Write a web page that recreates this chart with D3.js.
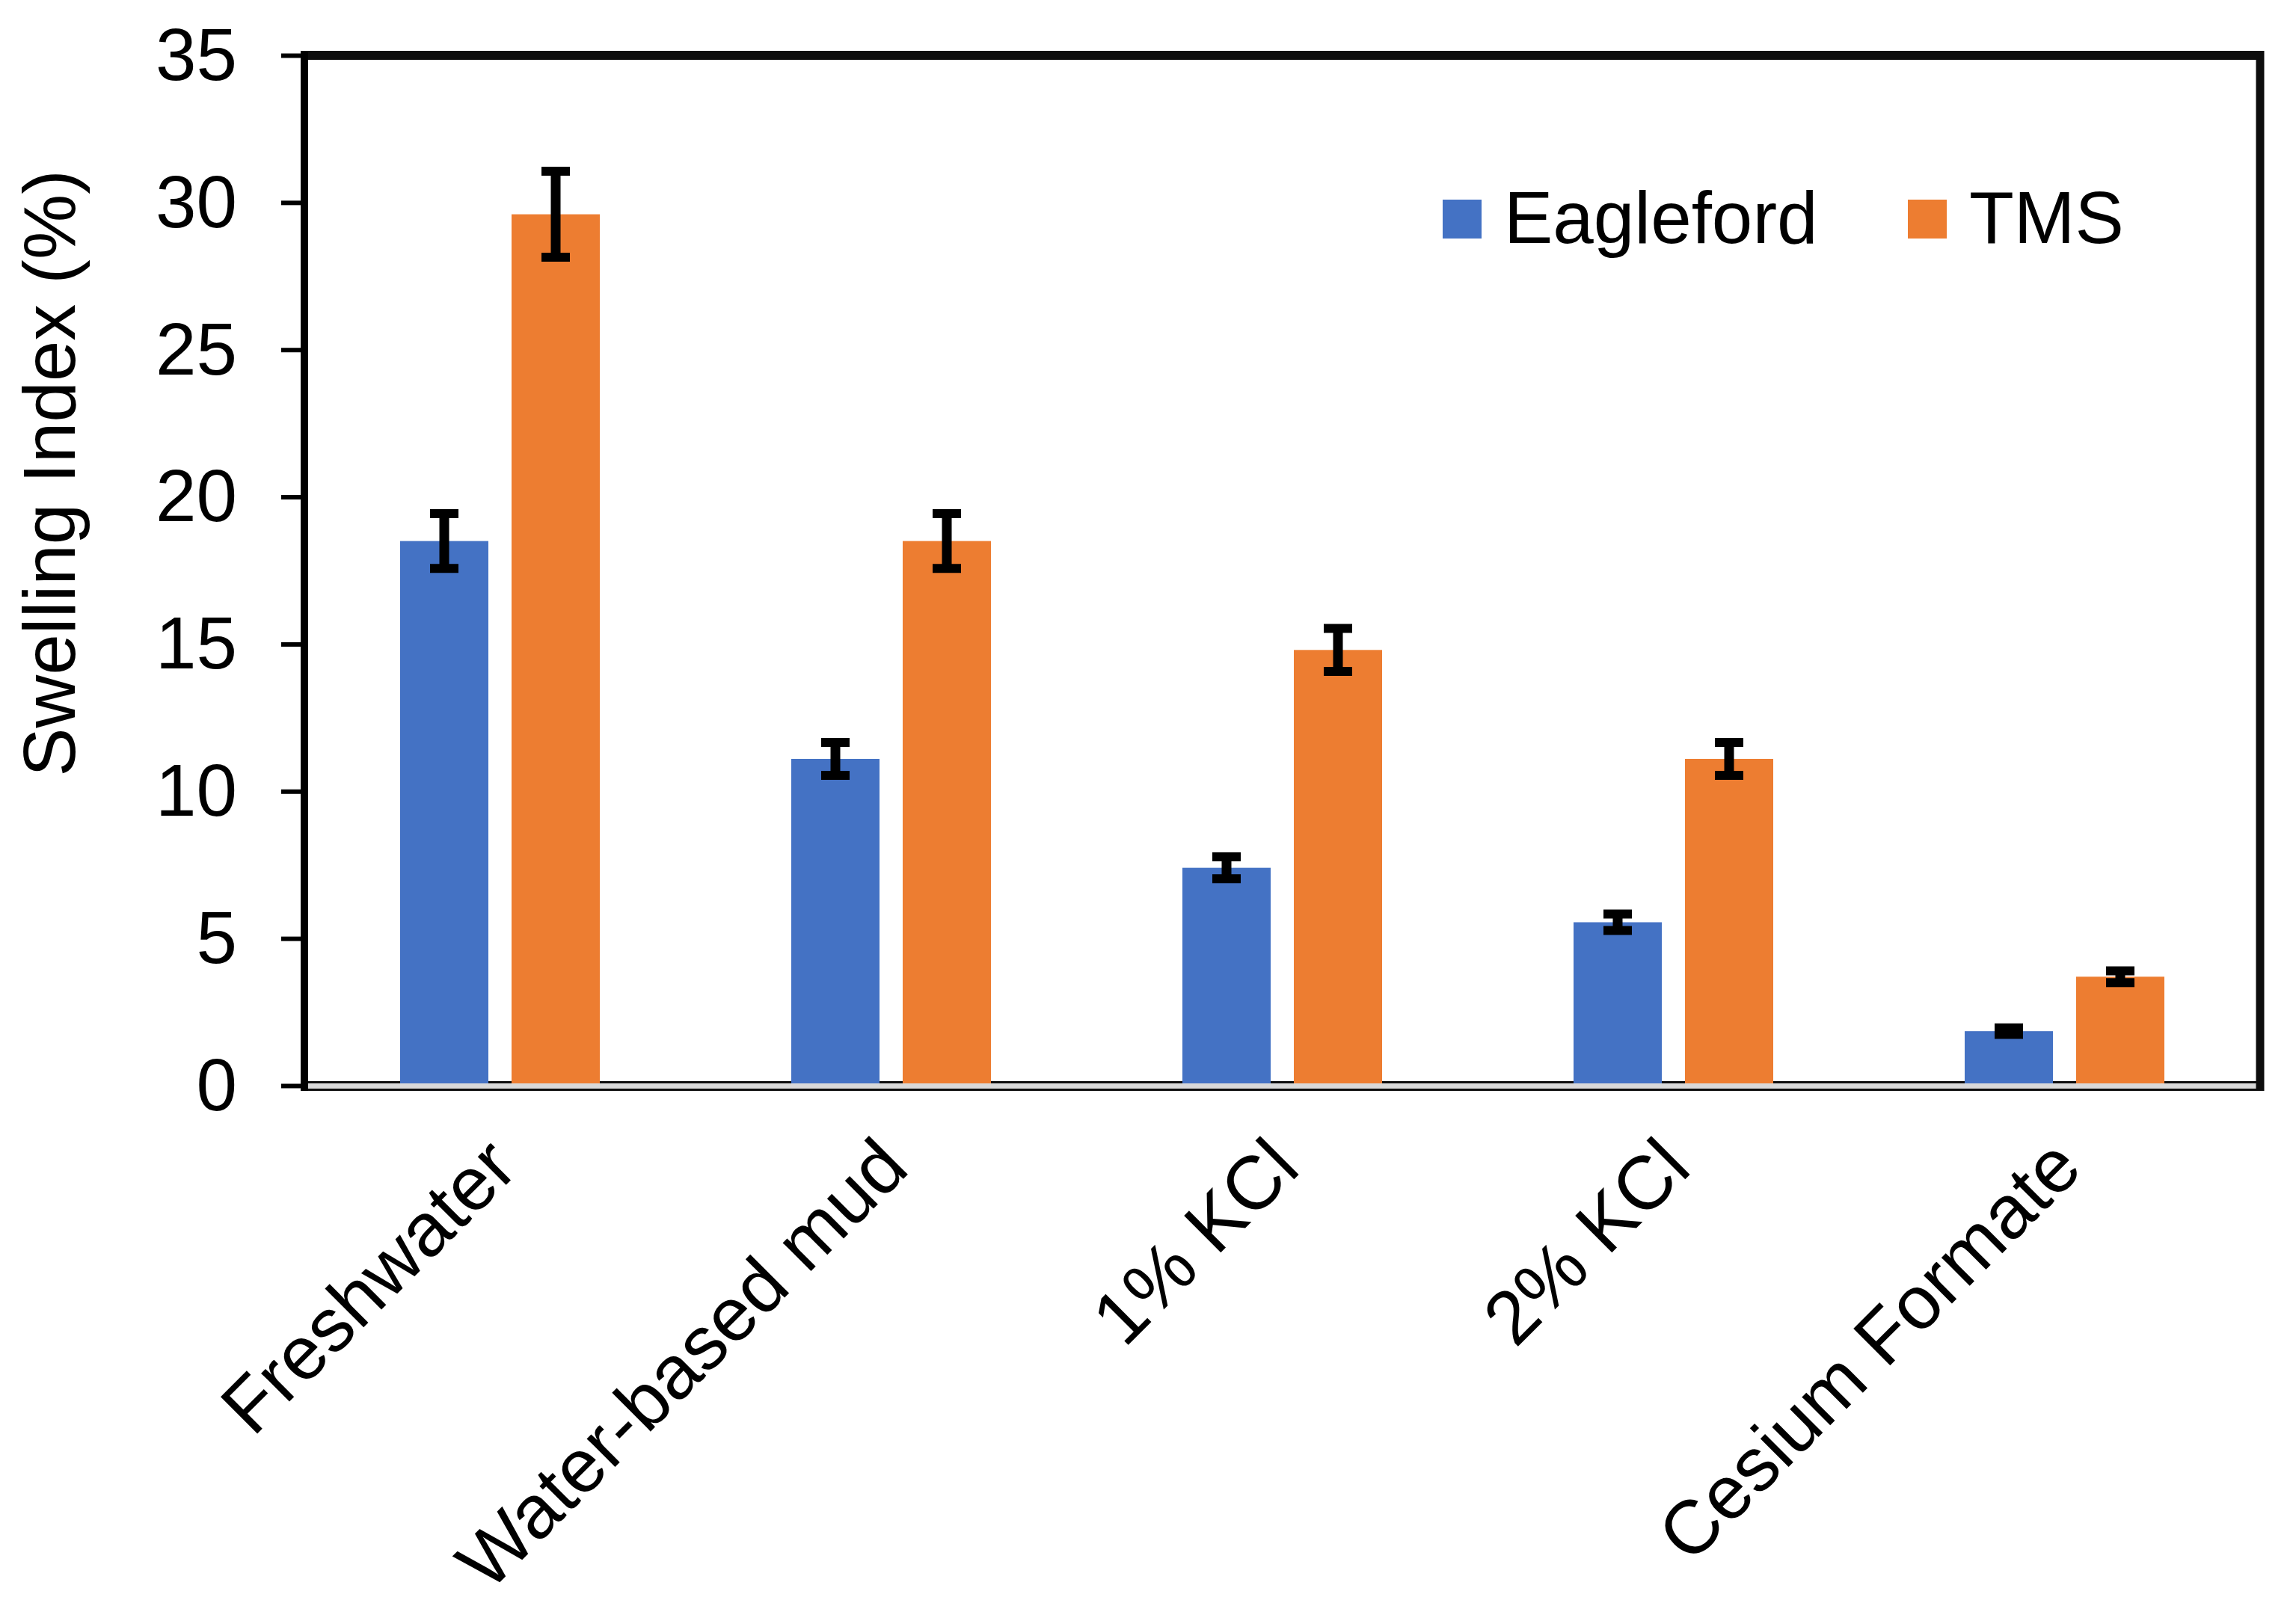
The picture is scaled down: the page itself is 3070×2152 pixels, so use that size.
<!DOCTYPE html>
<html>
<head>
<meta charset="utf-8">
<script src="https://cdn.jsdelivr.net/npm/d3@7"></script>
<style>
  body { margin: 0; background: #fff; }
  text { font-family: "Liberation Sans", Arial, sans-serif; fill: #000; }
</style>
</head>
<body>
<div id="chart"></div>
<script>
var categories = ["Freshwater", "Water-based mud", "1% KCl", "2% KCl", "Cesium Formate"];
var series = ["Eagleford", "TMS"];
var eagleford = [18.5, 11.1, 7.4, 5.55, 1.85];
var tms = [29.6, 18.5, 14.8, 11.1, 3.7];
var eaglefordErr = [0.93, 0.56, 0.37, 0.28, 0.11];
var tmsErr = [1.46, 0.93, 0.73, 0.56, 0.2];
var yTicks = [0, 5, 10, 15, 20, 25, 30, 35];
var colors = ["#4472C4", "#ED7D31"];

var width = 3070, height = 2152;
var plotLeft = 407, plotRight = 3022, plotTop = 74, plotBottom = 1452;

var svg = d3.select("#chart").append("svg")
    .attr("width", width)
    .attr("height", height);

var x0 = d3.scaleBand()
    .domain(categories)
    .range([plotLeft, plotRight]);

var x1 = d3.scaleBand()
    .domain(series)
    .range([-133.5, 133.5])
    .paddingInner(31 / 149);

var y = d3.scaleLinear()
    .domain([0, 35])
    .range([plotBottom, plotTop]);

var rows = categories.map(function(c, i) {
  return {
    cat: c,
    vals: [
      { s: series[0], v: eagleford[i], e: eaglefordErr[i], c: colors[0] },
      { s: series[1], v: tms[i], e: tmsErr[i], c: colors[1] }
    ]
  };
});

// thin line under bars
svg.append("line")
    .attr("x1", plotLeft).attr("x2", plotRight)
    .attr("y1", 1447.5).attr("y2", 1447.5)
    .attr("stroke", "#0d0d0d").attr("stroke-width", 3);

var g = svg.selectAll(".grp")
    .data(rows)
  .enter().append("g")
    .attr("class", "grp")
    .attr("transform", function(d) { return "translate(" + (x0(d.cat) + x0.bandwidth() / 2) + ",0)"; });

g.selectAll("rect")
    .data(function(d) { return d.vals; })
  .enter().append("rect")
    .attr("x", function(d) { return x1(d.s); })
    .attr("width", x1.bandwidth())
    .attr("y", function(d) { return y(d.v); })
    .attr("height", function(d) { return 1449 - y(d.v); })
    .attr("fill", function(d) { return d.c; });

// error bars
var eb = g.selectAll(".err")
    .data(function(d) { return d.vals; })
  .enter().append("g")
    .attr("class", "err")
    .attr("transform", function(d) { return "translate(" + (x1(d.s) + x1.bandwidth() / 2) + ",0)"; });

eb.append("line")
    .attr("x1", 0).attr("x2", 0)
    .attr("y1", function(d) { return y(d.v + d.e); })
    .attr("y2", function(d) { return y(d.v - d.e); })
    .attr("stroke", "#000").attr("stroke-width", 13);

eb.append("line")
    .attr("x1", -19).attr("x2", 19)
    .attr("y1", function(d) { return y(d.v + d.e); })
    .attr("y2", function(d) { return y(d.v + d.e); })
    .attr("stroke", "#000").attr("stroke-width", 12);

eb.append("line")
    .attr("x1", -19).attr("x2", 19)
    .attr("y1", function(d) { return y(d.v - d.e); })
    .attr("y2", function(d) { return y(d.v - d.e); })
    .attr("stroke", "#000").attr("stroke-width", 12);

// bottom axis band
svg.append("rect")
    .attr("x", plotLeft).attr("y", 1449)
    .attr("width", plotRight - plotLeft).attr("height", 7.5)
    .attr("fill", "#d9d9d9");
svg.append("line")
    .attr("x1", plotLeft).attr("x2", plotRight + 5)
    .attr("y1", 1457.5).attr("y2", 1457.5)
    .attr("stroke", "#0d0d0d").attr("stroke-width", 3);

// frame top and right
svg.append("line")
    .attr("x1", plotLeft).attr("x2", plotRight + 5)
    .attr("y1", plotTop).attr("y2", plotTop)
    .attr("stroke", "#0d0d0d").attr("stroke-width", 12);
svg.append("line")
    .attr("x1", plotRight).attr("x2", plotRight)
    .attr("y1", plotTop - 6).attr("y2", 1459)
    .attr("stroke", "#0d0d0d").attr("stroke-width", 11);

// y axis
var yAxis = d3.axisLeft(y)
    .tickValues(yTicks)
    .tickSize(31)
    .tickPadding(59)
    .tickFormat(d3.format("d"));

var ya = svg.append("g")
    .attr("transform", "translate(" + plotLeft + ",0)")
    .call(yAxis);
ya.select(".domain").remove();
ya.selectAll(".tick line").attr("stroke", "#000").attr("stroke-width", 6);
ya.selectAll(".tick text")
    .attr("font-size", 98)
    .attr("font-family", "Liberation Sans, Arial, sans-serif")
    .attr("fill", "#000")
    .attr("dy", "0.33em");

svg.append("line")
    .attr("x1", plotLeft).attr("x2", plotLeft)
    .attr("y1", plotTop - 6).attr("y2", 1459)
    .attr("stroke", "#000").attr("stroke-width", 10);

// x labels
svg.selectAll(".xlab")
    .data(categories)
  .enter().append("text")
    .attr("class", "xlab")
    .attr("text-anchor", "end")
    .attr("font-size", 101)
    .attr("transform", function(d) { return "translate(" + (x0(d) + x0.bandwidth() / 2 + 27) + ",1566) rotate(-45)"; })
    .text(function(d) { return d; });

// y title
svg.append("text")
    .attr("text-anchor", "middle")
    .attr("font-size", 98)
    .attr("transform", "translate(100,633) rotate(-90)")
    .text("Swelling Index (%)");

// legend
var legX = [1929, 2551];
var leg = svg.selectAll(".leg")
    .data(series)
  .enter().append("g")
    .attr("class", "leg")
    .attr("transform", function(d, i) { return "translate(" + legX[i] + ",267)"; });
leg.append("rect")
    .attr("width", 52).attr("height", 52)
    .attr("fill", function(d, i) { return colors[i]; });
leg.append("text")
    .attr("x", 82).attr("y", 58)
    .attr("font-size", 98)
    .text(function(d) { return d; });
</script>
</body>
</html>
